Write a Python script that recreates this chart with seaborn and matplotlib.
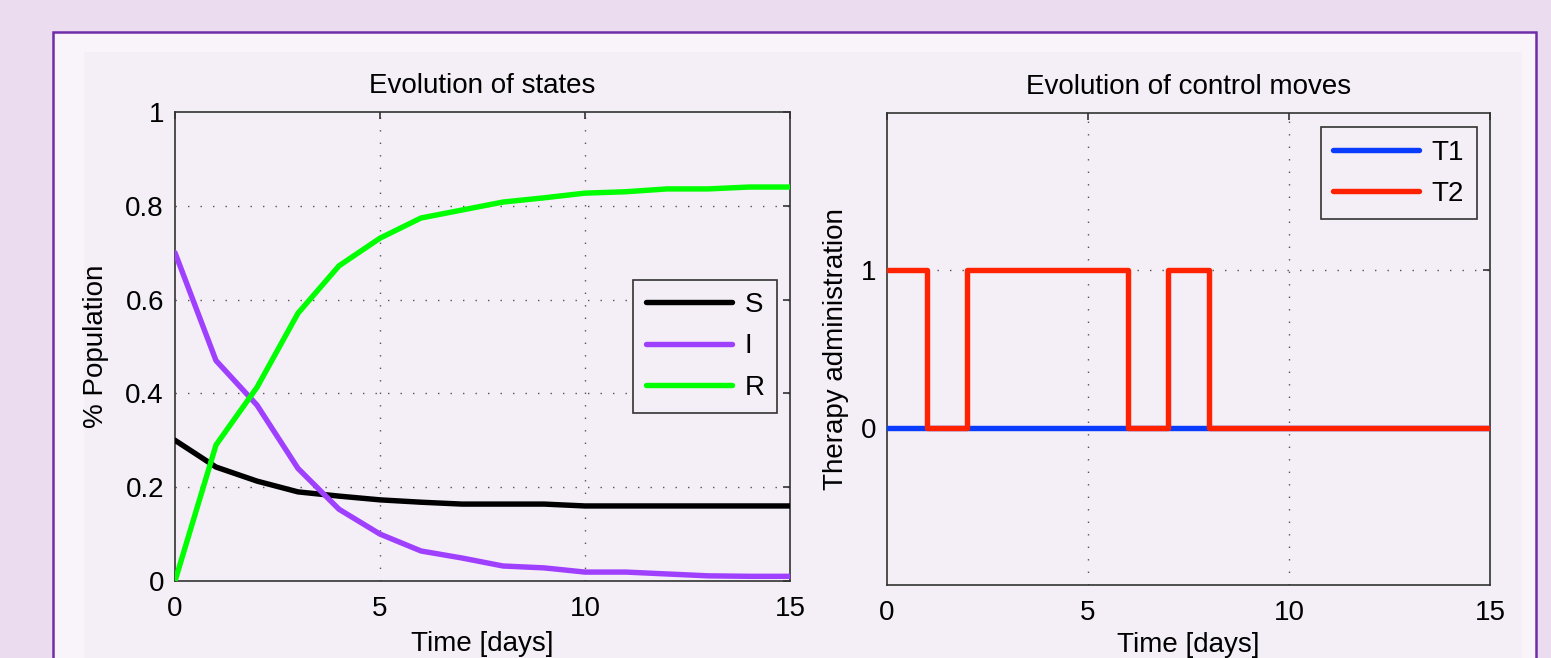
import numpy as np
import pandas as pd
import matplotlib
matplotlib.use("Agg")
import matplotlib.pyplot as plt
import matplotlib.ticker as ticker
from matplotlib.patches import Rectangle
import seaborn as sns

# %% data
days = list(range(16))
s_vals = [0.30, 0.243, 0.213, 0.19, 0.181, 0.173, 0.168, 0.164, 0.164, 0.164,
          0.16, 0.16, 0.16, 0.16, 0.16, 0.16]
i_vals = [0.70, 0.47, 0.375, 0.24, 0.153, 0.10, 0.064, 0.049, 0.032, 0.028,
          0.019, 0.019, 0.015, 0.011, 0.01, 0.01]
r_vals = [0.0, 0.29, 0.413, 0.571, 0.672, 0.731, 0.774, 0.791, 0.808, 0.817,
          0.827, 0.83, 0.836, 0.836, 0.84, 0.84]
t1_vals = [0] * 16
t2_vals = [1, 0, 1, 1, 1, 1, 0, 1, 0, 0, 0, 0, 0, 0, 0, 0]

state_names = ["S", "I", "R"]
state_colors = ["#000000", "#A040FF", "#00FF00"]
ctrl_names = ["T1", "T2"]
ctrl_colors = ["#0A3CFF", "#FF2200"]

states = pd.DataFrame({
    "day": days * 3,
    "value": s_vals + i_vals + r_vals,
    "state": ["S"] * 16 + ["I"] * 16 + ["R"] * 16,
})
controls = pd.DataFrame({
    "day": days * 2,
    "value": t1_vals + t2_vals,
    "ctrl": ["T1"] * 16 + ["T2"] * 16,
})

# %% style
sns.set_style("white")
plt.rcParams["font.family"] = ["Liberation Sans", "DejaVu Sans"]
plt.rcParams["text.color"] = "black"
plt.rcParams["axes.labelcolor"] = "black"

W, H = 1551, 658
fig = plt.figure(figsize=(W / 100, H / 100), dpi=100, facecolor="#EBDCF0")

# framed card behind the plots (drawn in a background axes)
bg = fig.add_axes([0, 0, 1, 1], zorder=-10)
bg.set_axis_off()
bg.set_xlim(0, 1)
bg.set_ylim(0, 1)
bg.add_patch(Rectangle((53 / W, -0.1), (1536 - 53) / W, 1 - 32 / H + 0.1,
                       facecolor="#F8F4FA", edgecolor="#6F2DA8", linewidth=1.8))
bg.add_patch(Rectangle((84 / W, -0.1), (1522 - 84) / W, 1 - 52 / H + 0.1,
                       facecolor="#F4EEF6", edgecolor="none"))

ax1 = fig.add_axes([175 / W, 1 - 581 / H, (790 - 175) / W, (581 - 112) / H])
ax2 = fig.add_axes([887 / W, 1 - 585 / H, (1490 - 887) / W, (585 - 113) / H])

grid_kw = dict(color="#555555", linestyle=(0, (1, 8)), linewidth=1.0, zorder=0.5)
leg_kw = dict(borderaxespad=0, fontsize=20, handlelength=3.1, handletextpad=0.45,
              labelspacing=0.55, fancybox=False, framealpha=1,
              facecolor="#F4EEF6", edgecolor="#333333", borderpad=0.45)


def style_axes(ax):
    ax.set_facecolor("#F4EEF6")
    for sp in ax.spines.values():
        sp.set_visible(True)
        sp.set_color("#333333")
        sp.set_linewidth(1.2)
    ax.tick_params(direction="in", top=True, right=True, length=5, width=1.2,
                   color="#333333", labelsize=20, labelcolor="black")
    ax.tick_params(axis="x", pad=11)
    ax.tick_params(axis="y", pad=8)
    ax.xaxis.set_major_formatter(ticker.FormatStrFormatter("%g"))
    ax.yaxis.set_major_formatter(ticker.FormatStrFormatter("%g"))


# %% left: states
sns.lineplot(data=states, x="day", y="value", hue="state", hue_order=state_names,
             palette=state_colors, estimator=None, linewidth=3.9, legend=False,
             ax=ax1, zorder=3)
style_axes(ax1)
ax1.set_xlim(0, 15)
ax1.set_ylim(0, 1)
ax1.set_xticks([0, 5, 10, 15])
ax1.set_yticks([0, 0.2, 0.4, 0.6, 0.8, 1])
for x in [5, 10]:
    ax1.axvline(x, **grid_kw)
for y in [0.2, 0.4, 0.6, 0.8]:
    ax1.axhline(y, **grid_kw)
ax1.set_title("Evolution of states", fontsize=20, pad=14)
ax1.set_xlabel("Time [days]", fontsize=20, labelpad=6)
ax1.set_ylabel("% Population", fontsize=20, labelpad=12)
leg1 = ax1.legend(ax1.get_lines()[:3], state_names, loc="center right",
                  bbox_to_anchor=(0.979, 0.5), **leg_kw)
leg1.get_frame().set_linewidth(1.2)

# %% right: control moves
sns.lineplot(data=controls, x="day", y="value", hue="ctrl", hue_order=ctrl_names,
             palette=ctrl_colors, estimator=None, linewidth=3.9, legend=False,
             drawstyle="steps-post", ax=ax2, zorder=3)
style_axes(ax2)
ax2.set_xlim(0, 15)
ax2.set_ylim(-1, 2)
ax2.set_xticks([0, 5, 10, 15])
ax2.set_yticks([0, 1])
for x in [5, 10]:
    ax2.axvline(x, **grid_kw)
for y in [0, 1]:
    ax2.axhline(y, **grid_kw)
ax2.set_title("Evolution of control moves", fontsize=20, pad=14)
ax2.set_xlabel("Time [days]", fontsize=20, labelpad=4)
ax2.set_ylabel("Therapy administration", fontsize=20, labelpad=8)
leg2 = ax2.legend(ax2.get_lines()[:2], ctrl_names, loc="upper right",
                  bbox_to_anchor=(0.978, 0.970), **leg_kw)
leg2.get_frame().set_linewidth(1.2)

fig.savefig("out.png", dpi=100, facecolor=fig.get_facecolor())
